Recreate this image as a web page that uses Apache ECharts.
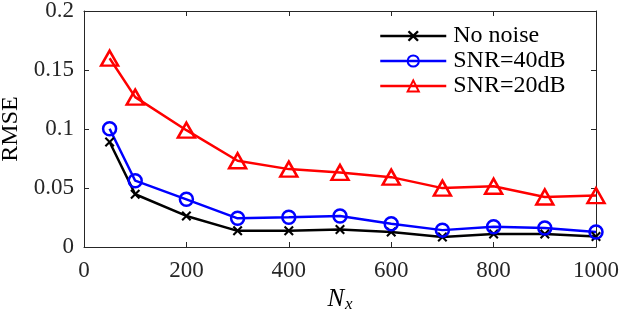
<!DOCTYPE html>
<html><head><meta charset="utf-8">
<script src="https://cdn.jsdelivr.net/npm/echarts@6/dist/echarts.min.js"></script>
<style>html,body{margin:0;padding:0;background:#fff}#c{width:620px;height:312px}</style>
</head><body><div id="c"></div>
<script>
const categories = [50, 100, 200, 300, 400, 500, 600, 700, 800, 900, 1000];
const noNoise = [0.089, 0.0447, 0.0263, 0.0137, 0.0138, 0.0148, 0.0128, 0.0085, 0.011, 0.011, 0.0088];
const snr40 = [0.1002, 0.0562, 0.0404, 0.0243, 0.0252, 0.0262, 0.0197, 0.0143, 0.0172, 0.0161, 0.0127];
const snr20 = [0.16, 0.127, 0.099, 0.0731, 0.066, 0.0632, 0.0592, 0.0499, 0.0515, 0.0424, 0.0436];
const seriesNames = ['No noise', 'SNR=40dB', 'SNR=20dB'];
const xTicks = [0, 200, 400, 600, 800, 1000];
const yTicks = [0, 0.05, 0.1, 0.15, 0.2];

const FONT = 'Liberation Serif';
const AX = '#262626';
const pairs = arr => categories.map((x, i) => [x, arr[i]]);
const xMark = 'path://M1.5,0 L5,3.5 L8.5,0 L10,1.5 L6.5,5 L10,8.5 L8.5,10 L5,6.5 L1.5,10 L0,8.5 L3.5,5 L0,1.5 Z';

const chart = echarts.init(document.getElementById('c'), null, {renderer: 'canvas'});
const axisCommon = () => ({
  axisLine: {show: true, onZero: false, lineStyle: {color: AX, width: 1}},
  axisTick: {show: true, inside: true, length: 5, lineStyle: {color: AX, width: 1}},
  splitLine: {show: false}
});
chart.setOption({
  animation: false,
  backgroundColor: '#fff',
  grid: {left: 84, right: 24, top: 11, bottom: 65, containLabel: false, outerBoundsMode: 'none'},
  legend: {
    orient: 'vertical', left: 374, top: 19,
    itemWidth: 66, itemHeight: 14, itemGap: 1,
    data: seriesNames,
    lineStyle: {width: 2.5},
    textStyle: {fontFamily: FONT, fontSize: 24, color: '#000', lineHeight: 24, padding: [0, 0, 0, 2]}
  },
  xAxis: [
    Object.assign({
      type: 'value', min: xTicks[0], max: xTicks[xTicks.length - 1], interval: 200,
      name: '{n|N}{s|x}', nameLocation: 'middle', nameGap: 36,
      nameTextStyle: {rich: {
        n: {fontFamily: FONT, fontStyle: 'italic', fontSize: 25, color: '#000'},
        s: {fontFamily: FONT, fontStyle: 'italic', fontSize: 17, color: '#000', padding: [10, 0, 0, 1]}
      }},
      axisLabel: {fontFamily: FONT, fontSize: 23, color: AX, margin: 12, formatter: v => String(v)}
    }, axisCommon()),
    Object.assign({
      type: 'value', position: 'top', min: 0, max: 1000, interval: 200,
      axisLabel: {show: false}
    }, axisCommon())
  ],
  yAxis: [
    Object.assign({
      type: 'value', min: yTicks[0], max: yTicks[yTicks.length - 1], interval: 0.05,
      name: 'RMSE', nameLocation: 'middle', nameGap: 53,
      nameTextStyle: {fontFamily: FONT, fontSize: 24, color: '#000'},
      axisLabel: {fontFamily: FONT, fontSize: 23, color: AX, margin: 10, formatter: v => String(+v.toFixed(2))}
    }, axisCommon()),
    Object.assign({
      type: 'value', position: 'right', min: 0, max: 0.2, interval: 0.05,
      axisLabel: {show: false}
    }, axisCommon())
  ],
  series: [
    {
      name: seriesNames[0], type: 'line', data: pairs(noNoise),
      symbol: xMark, symbolSize: 10,
      lineStyle: {color: '#000', width: 2.5},
      itemStyle: {color: '#000', borderWidth: 0}
    },
    {
      name: seriesNames[1], type: 'line', data: pairs(snr40),
      symbol: 'circle', symbolSize: 13,
      lineStyle: {color: '#0000ff', width: 2.5},
      itemStyle: {color: 'rgba(0,0,0,0)', borderColor: '#0000ff', borderWidth: 2.5}
    },
    {
      name: seriesNames[2], type: 'line', data: pairs(snr20),
      symbol: 'triangle', symbolSize: [17, 15],
      lineStyle: {color: '#ff0000', width: 2.5},
      itemStyle: {color: 'rgba(0,0,0,0)', borderColor: '#ff0000', borderWidth: 2.5}
    }
  ]
});
</script></body></html>
